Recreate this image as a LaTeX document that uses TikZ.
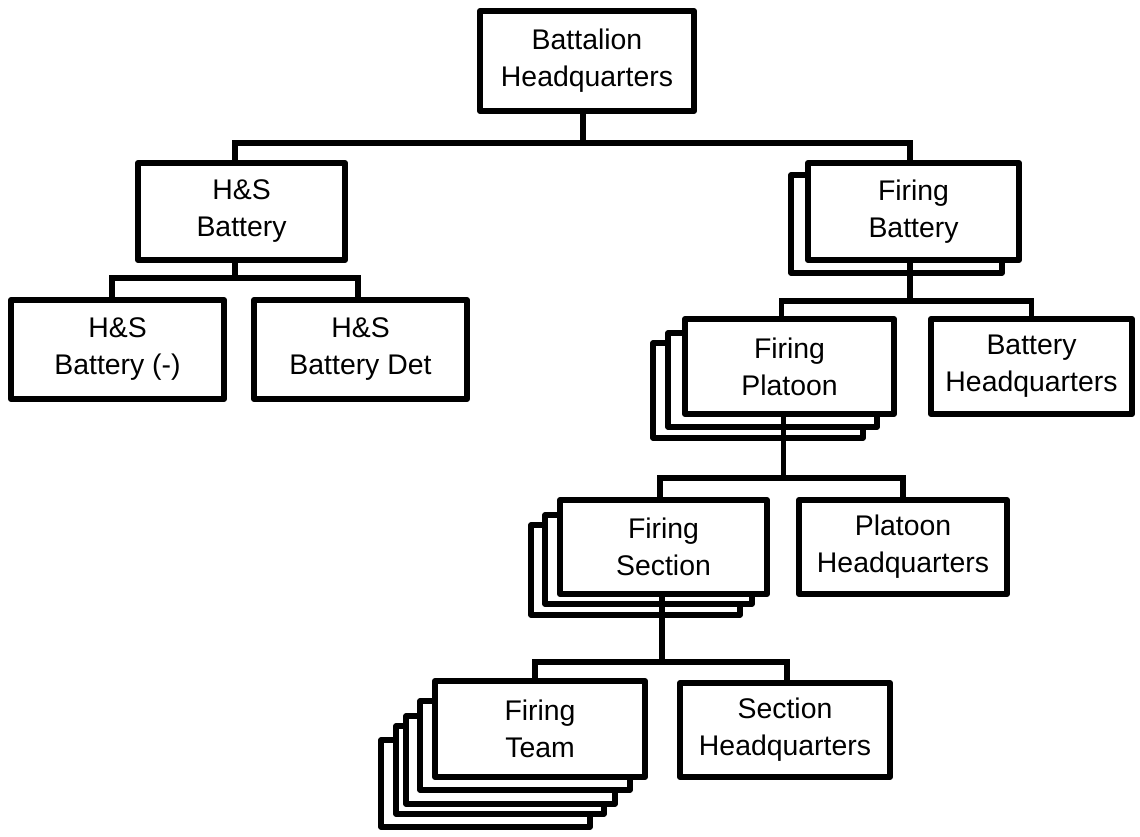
\documentclass[tikz,border=0pt]{standalone}
\usepackage{fontspec}
\setmainfont{Liberation Sans}
\usetikzlibrary{calc}
\begin{document}
\begin{tikzpicture}[x=1pt,y=-1pt,
  box/.style={draw=black,fill=white,line width=6pt,line join=round,rectangle,inner sep=0pt,
    align=center,font=\fontsize{28.4}{37}\selectfont},
  backbox/.style={draw=black,fill=white,line width=5.5pt,line join=round},
  conn/.style={draw=black,line width=5.5pt}]
\useasboundingbox[fill=white] (0,0) rectangle (1140,837);

% stacked back boxes
\draw[backbox] (791,175) rectangle (1002,273);
\draw[backbox] (653,343) rectangle (863,438);
\draw[backbox] (668,333) rectangle (877,427);
\draw[backbox] (531,525) rectangle (740,615);
\draw[backbox] (545,515) rectangle (752,604);
\draw[backbox] (381,740) rectangle (590,827);
\draw[backbox] (396,726) rectangle (604,814);
\draw[backbox] (406,716) rectangle (615,804);
\draw[backbox] (420,701) rectangle (630,790);

% nodes
\node[box,minimum width=214pt,minimum height=100pt] (bhq) at (587,61) {Battalion\\Headquarters};
\node[box,minimum width=207pt,minimum height=97pt] (hsb) at (241.5,211.5) {H\&S\\Battery};
\node[box,minimum width=211pt,minimum height=97pt] (fb) at (913.5,211.5) {Firing\\Battery};
\node[box,minimum width=213pt,minimum height=99pt] (hsbm) at (117.5,349.5) {H\&S\\Battery (-)};
\node[box,minimum width=213pt,minimum height=99pt] (hsbd) at (360.5,349.5) {H\&S\\Battery Det};
\node[box,minimum width=209pt,minimum height=95pt] (fp) at (789.5,366.5) {Firing\\Platoon};
\node[box,minimum width=201pt,minimum height=95pt] (bhqb) at (1031.5,366.5) {Battery\\Headquarters};
\node[box,minimum width=207pt,minimum height=94pt] (fs) at (663.5,547) {Firing\\Section};
\node[box,minimum width=208pt,minimum height=94pt] (phq) at (903,547) {Platoon\\Headquarters};
\node[box,minimum width=210pt,minimum height=96pt] (ft) at (540,729) {Firing\\Team};
\node[box,minimum width=210pt,minimum height=94pt] (shq) at (785,730) {Section\\Headquarters};

% connectors
\coordinate (bhqS) at ($(bhq.south)+(-4,0)$);
\coordinate (hsbN) at ($(hsb.north)+(-6.5,0)$);
\coordinate (hsbS) at ($(hsb.south)+(-6.5,0)$);
\coordinate (fbN) at ($(fb.north)+(-3.5,0)$);
\coordinate (fbS) at ($(fb.south)+(-3.5,0)$);
\coordinate (hsbmN) at ($(hsbm.north)+(-5.5,0)$);
\coordinate (hsbdN) at ($(hsbd.north)+(-2.5,0)$);
\coordinate (fpN) at ($(fp.north)+(-8,0)$);
\coordinate (fpS) at ($(fp.south)+(-6,0)$);
\coordinate (fsN) at ($(fs.north)+(-3.5,0)$);
\coordinate (fsS) at ($(fs.south)+(-1.5,0)$);
\coordinate (ftN) at ($(ft.north)+(-5,0)$);
\coordinate (shqN) at ($(shq.north)+(2,0)$);

\draw[conn] (bhqS) -- (bhqS |- 0,143);
\draw[conn] (hsbN) |- (fbN |- 0,143) -- (fbN);
\draw[conn] (hsbS) -- (hsbS |- 0,278);
\draw[conn] (hsbmN) |- (hsbdN |- 0,278) -- (hsbdN);
\draw[conn] (fbS) -- (fbS |- 0,301);
\draw[conn] (fpN) |- (bhqb.north |- 0,301) -- (bhqb.north);
\draw[conn] (fpS) -- (fpS |- 0,478);
\draw[conn] (fsN) |- (phq.north |- 0,478) -- (phq.north);
\draw[conn] (fsS) -- (fsS |- 0,662);
\draw[conn] (ftN) |- (shqN |- 0,662) -- (shqN);
\end{tikzpicture}
\end{document}
